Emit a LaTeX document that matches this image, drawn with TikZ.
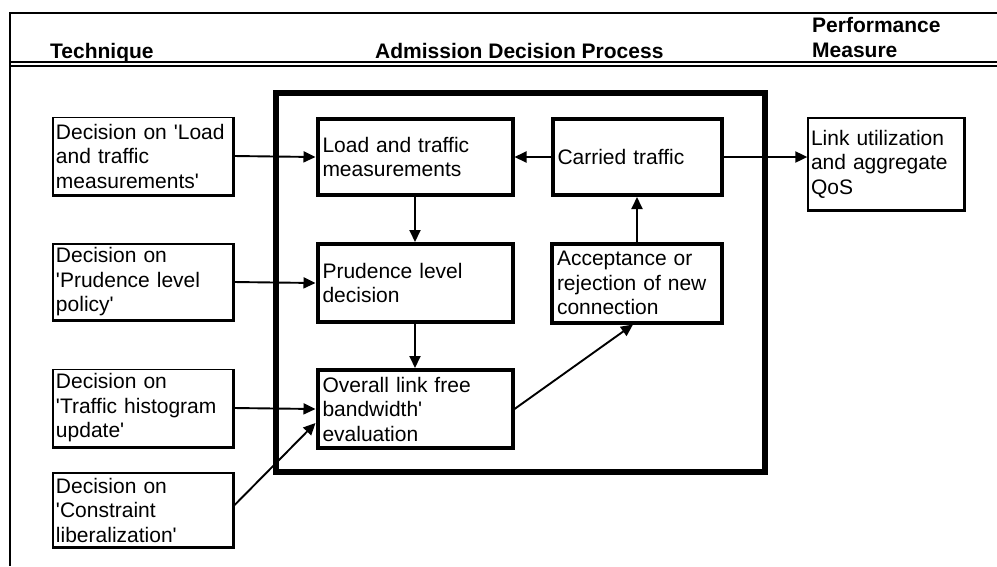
\documentclass[tikz,border=0pt]{standalone}
\usepackage{fontspec}
\setmainfont{Liberation Sans}
\usetikzlibrary{arrows.meta}
\newcommand{\sq}{\textquotesingle}

\begin{document}
\begin{tikzpicture}[x=1pt,y=-1pt,
  lbl/.style={font=\fontsize{21}{24.5}\selectfont, align=left, inner ysep=0pt, anchor=center},
  thinbox/.style={lbl, draw, line width=1.3pt, inner xsep=3pt},
  procbox/.style={lbl, draw, line width=4pt, inner xsep=5pt},
  head/.style={font=\fontsize{21}{26}\selectfont\bfseries, anchor=base west, inner sep=0pt, align=left},
  arr/.style={line width=1.9pt, -{Triangle[length=12pt,width=11pt]}},
  rule/.style={line width=1.7pt},
]
\useasboundingbox (0,0) rectangle (997,566);

% table frame and header rules
\draw[rule, line width=2.2pt] (997,13) -- (10,13) -- (10,566);
\draw[rule] (10,62) -- (997,62);
\draw[rule] (10,66) -- (997,66);

% column headings
\node[head] (hTech) at (50,58) {Technique};
\node[head] (hAdm) at (375,58) {Admission Decision Process};
\node[head] (hPerf1) at (812,32) {Performance};
\node[head] (hPerf2) at (812,57) {Measure};

% admission decision process frame
\draw[line width=6pt] (276,93) rectangle (765,472);

% technique decisions
\node[thinbox, minimum width=180pt, text width=174pt, minimum height=77pt] (d1) at (143,156)
  {Decision on \sq Load\\and traffic\\measurements\sq};
\node[thinbox, minimum width=180pt, text width=174pt, minimum height=76pt] (d2) at (143,282)
  {Decision on\\\sq Prudence level\\policy\sq};
\node[thinbox, minimum width=180pt, text width=174pt, minimum height=77pt] (d3) at (143,408)
  {Decision on\\\sq Traffic histogram\\update\sq};
\node[thinbox, minimum width=180pt, text width=174pt, minimum height=74pt] (d4) at (143,510)
  {Decision on\\\sq Constraint\\liberalization\sq};

% process steps
\node[procbox, minimum width=195pt, text width=185pt, minimum height=76pt] (load) at (415,157)
  {Load and traffic\\measurements};
\node[procbox, minimum width=169pt, text width=159pt, minimum height=76pt] (carr) at (637,157)
  {Carried traffic};
\node[procbox, minimum width=195pt, text width=185pt, minimum height=78pt] (prud) at (415,283)
  {Prudence level\\decision};
\node[procbox, minimum width=170pt, text width=160pt, minimum height=79pt] (acc) at (637,283)
  {Acceptance or\\rejection of new\\connection};
\node[procbox, minimum width=195pt, text width=185pt, minimum height=78pt] (over) at (415,409)
  {Overall link free\\bandwidth\sq\\evaluation};

% performance measure
\node[thinbox, minimum width=156pt, text width=150pt, minimum height=92pt] (link) at (886,164)
  {Link utilization\\and aggregate\\QoS};

% heavier right and bottom edges of the outer boxes
\foreach \n in {d1,d2,d3,d4,link}
  \draw[line width=2.8pt] (\n.north east) -- (\n.south east) -- (\n.south west);

% connectors
\draw[arr] (d1.east) -- (load.west);
\draw[arr] (d2.east) -- (prud.west);
\draw[arr] (d3.east) -- (over.west);
\draw[arr] ([yshift=4pt]d4.east) -- ([yshift=-14pt]over.west);
\draw[arr] (load.south) -- (prud.north);
\draw[arr] (prud.south) -- (over.north);
\draw[arr] (over.east) -- ([xshift=-4pt]acc.south);
\draw[arr] (acc.north) -- (carr.south);
\draw[arr] (carr.west) -- (load.east);
\draw[arr] (carr.east) -- (link.west |- carr.east);
\end{tikzpicture}
\end{document}
